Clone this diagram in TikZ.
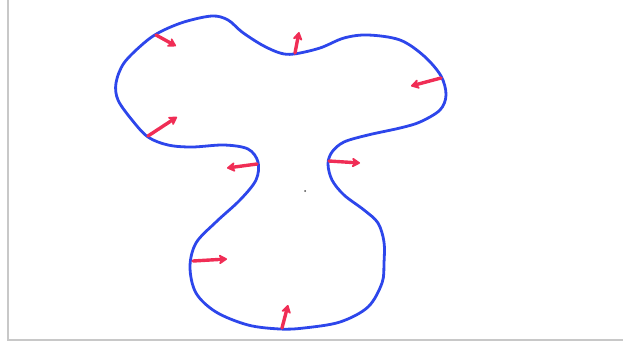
\documentclass[tikz,border=0pt]{standalone}
\usepackage{tikz}
\usetikzlibrary{arrows.meta}
\definecolor{rimblue}{RGB}{45,70,235}
\definecolor{nrmred}{RGB}{240,45,85}
\definecolor{framegray}{RGB}{200,200,200}

\begin{document}
\begin{tikzpicture}[x=1pt,y=-1pt,>={Stealth[length=10pt,width=12pt,round]},
  rim/.style={draw=rimblue,line width=2.8pt,line join=round},
  nrm/.style={->,draw=nrmred,line width=3.4pt,line cap=round},
  edge/.style={draw=framegray,line width=2.4pt}]
  \useasboundingbox (0,0) rectangle (623,343);
  \draw[edge] (8,0) -- (8,340) -- (623,340);
  \draw[rim] plot[smooth cycle,tension=0.55] coordinates {
    (212,16) (228,20) (242,32) (262,45) (280,53) (294,54) (320,48)
    (344,38) (368,35) (400,40) (424,56) (441,76) (446,95) (440,110)
    (420,122) (400,128) (368,135) (344,142) (332,152) (328,164)
    (332,180) (344,195) (364,210) (378,223) (384,242) (384,263)
    (382,283) (368,307) (340,322) (304,328) (280,329) (248,325)
    (216,312) (196,293) (190,267) (196,243) (216,222) (240,200)
    (256,180) (258,162) (248,149) (224,145) (192,147) (168,145)
    (148,137) (132,120) (118,100) (116,83) (124,63) (144,43)
    (160,32) (184,22)};
  \foreach \ax/\ay/\bx/\by in {156/35/176/46, 295/53/299/32, 441/78/411/86,
      148/136/177/117, 257/164/227/168, 329/161/360/163,
      193/261/227/259, 282/328/288/305}
    \draw[nrm] (\ax,\ay) -- (\bx,\by);
  \fill[black!70] (305,191) circle (1);
\end{tikzpicture}
\end{document}
